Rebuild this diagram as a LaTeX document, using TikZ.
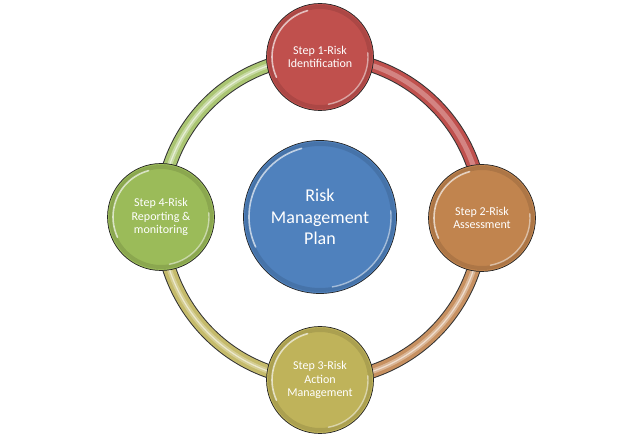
\documentclass[tikz,border=0pt]{standalone}
\usepackage{fontspec}
\setmainfont{Carlito}
\pgfdeclarelayer{background}
\pgfsetlayers{background,main}
\definecolor{cblue}{HTML}{4F81BD}
\definecolor{cred}{HTML}{C0504D}
\definecolor{corange}{HTML}{C1844E}
\definecolor{colive}{HTML}{BFB35A}
\definecolor{cgreen}{HTML}{9BBB59}
\tikzset{
  glossy/.style={path picture={
    \draw[black, opacity=.10, line width=4pt] (path picture bounding box.center) circle[radius=#1+2pt];
    \draw[white, opacity=.65, line width=1.6pt, line cap=round] (path picture bounding box.center) ++(105:#1) arc[start angle=105, end angle=205, radius=#1];
    \draw[white, opacity=.5, line width=1.4pt, line cap=round] (path picture bounding box.center) ++(-80:#1) arc[start angle=-80, end angle=5, radius=#1];
  }},
  stepnode/.style={circle, draw=black!85, line width=0.7pt, minimum size=107pt, inner sep=0pt,
    text=white, font=\fontsize{12}{13.4}\selectfont, align=center, fill=#1, glossy=48pt},
  mainnode/.style={circle, draw=black!85, line width=0.7pt, minimum size=153pt, inner sep=0pt,
    text=white, font=\fontsize{18}{21.6}\selectfont, align=center, fill=cblue, glossy=71pt},
  ringout/.style={line width=14pt, draw=black!80},
  ringin/.style={line width=12pt, draw=#1},
  ringmid/.style={line width=5pt, draw=#1},
  ringhl/.style={line width=1.2pt, draw=white, opacity=.55},
}
\begin{document}
\begin{tikzpicture}[x=1pt,y=1pt]
\useasboundingbox (0,0) rectangle (640,439);
\node[mainnode] (c) at (320,222) {Risk\\Management\\Plan};
\node[stepnode=cred] (n1) at (320,382) {Step 1-Risk\\Identification};
\node[stepnode=corange] (n2) at (482,221) {Step 2-Risk\\Assessment};
\node[stepnode=colive] (n3) at (320,59) {Step 3-Risk\\Action\\Management};
\node[stepnode=cgreen] (n4) at (161,222) {Step 4-Risk\\Reporting \&\\monitoring};
\begin{pgfonlayer}{background}
  % top -> right (red)
  \draw[ringout] (n1.center) arc[start angle=90, end angle=0, x radius=162, y radius=161];
  \draw[ringin=cred] (n1.center) arc[start angle=90, end angle=0, x radius=162, y radius=161];
  \draw[ringmid=cred!70!white] (n1.center) arc[start angle=90, end angle=0, x radius=162, y radius=161];
  % right -> bottom (orange)
  \draw[ringout] (n2.center) arc[start angle=0, end angle=-90, x radius=162, y radius=162];
  \draw[ringin=corange!90!white] (n2.center) arc[start angle=0, end angle=-90, x radius=162, y radius=162];
  \draw[ringmid=corange!60!white] (n2.center) arc[start angle=0, end angle=-90, x radius=162, y radius=162];
  \draw[ringhl] (n2.center) arc[start angle=0, end angle=-90, x radius=162, y radius=162];
  % bottom -> left (olive)
  \draw[ringout] (n3.center) arc[start angle=-90, end angle=-180, x radius=159, y radius=163];
  \draw[ringin=colive!90!white] (n3.center) arc[start angle=-90, end angle=-180, x radius=159, y radius=163];
  \draw[ringmid=colive!65!white] (n3.center) arc[start angle=-90, end angle=-180, x radius=159, y radius=163];
  \draw[ringhl] (n3.center) arc[start angle=-90, end angle=-180, x radius=159, y radius=163];
  % left -> top (green)
  \draw[ringout] (n4.center) arc[start angle=180, end angle=90, x radius=159, y radius=160];
  \draw[ringin=cgreen!85!white] (n4.center) arc[start angle=180, end angle=90, x radius=159, y radius=160];
  \draw[ringmid=cgreen!55!white] (n4.center) arc[start angle=180, end angle=90, x radius=159, y radius=160];
  \draw[ringhl] (n4.center) arc[start angle=180, end angle=90, x radius=159, y radius=160];
\end{pgfonlayer}
\end{tikzpicture}
\end{document}
